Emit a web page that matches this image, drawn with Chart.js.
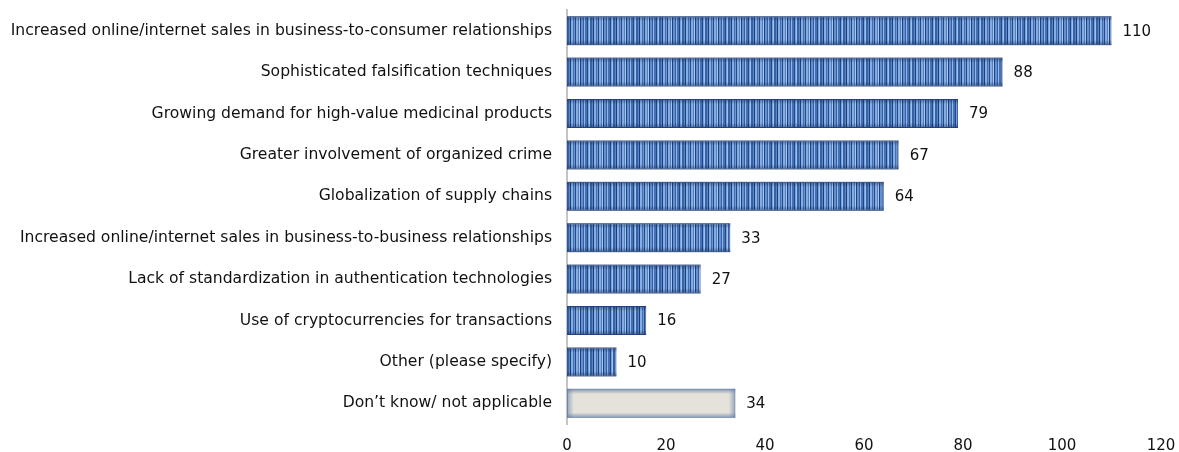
<!DOCTYPE html>
<html lang="en">
<head>
<meta charset="UTF-8">
<title>Drivers of falsification</title>
<script src="https://cdn.jsdelivr.net/npm/chart.js"></script>
<style>
  html, body { margin: 0; padding: 0; background: #fff; }
  #wrap { width: 1179px; height: 452px; }
</style>
</head>
<body>
<div id="wrap"><canvas id="myChart" width="1179" height="452"></canvas></div>
<script>
const categories = [
  'Increased online/internet sales in business-to-consumer relationships',
  'Sophisticated falsification techniques',
  'Growing demand for high-value medicinal products',
  'Greater involvement of organized crime',
  'Globalization of supply chains',
  'Increased online/internet sales in business-to-business relationships',
  'Lack of standardization in authentication technologies',
  'Use of cryptocurrencies for transactions',
  'Other (please specify)',
  'Don\u2019t know/ not applicable'
];
const counts = [110, 88, 79, 67, 64, 33, 27, 16, 10, 34];
const xTicks = [0, 20, 40, 60, 80, 100, 120];

const FONT = '"DejaVu Sans", Verdana, sans-serif';

// vertical stripe texture for the blue bars
function stripePattern(ctx) {
  const shades = ['#24498a', '#86acdf', '#5580c0', '#a8c7ee', '#1c4283', '#6590cd',
                  '#3461a4', '#93b7e6', '#4672b5', '#204787', '#7aa2da', '#a0c1eb',
                  '#3663a6', '#5a86c5', '#1a3f7f', '#88aee1', '#4370b3', '#6c97d3'];
  const widths = [1, 2, 1, 1, 1, 2, 1, 1, 2, 1, 1, 1, 2, 1, 1, 2, 1, 1];
  const w = widths.reduce((a, b) => a + b, 0);
  const c = document.createElement('canvas');
  c.width = w; c.height = 4;
  const g = c.getContext('2d');
  let x = 0;
  shades.forEach((s, i) => {
    g.fillStyle = s;
    g.fillRect(x, 0, widths[i], 4);
    x += widths[i];
  });
  return ctx.createPattern(c, 'repeat');
}

const ctx = document.getElementById('myChart').getContext('2d');
const stripes = stripePattern(ctx);

// darken top and bottom edges of each bar
const edgeShade = {
  id: 'edgeShade',
  afterDatasetsDraw(chart) {
    const c = chart.ctx;
    chart.getDatasetMeta(0).data.forEach((bar, i) => {
      const last = i === counts.length - 1;
      const top = bar.y - bar.height / 2;
      const bottom = bar.y + bar.height / 2;
      const left = bar.base;
      const gr = c.createLinearGradient(0, top, 0, bottom);
      const col = last ? '100,125,165' : '10,32,78';
      const a = last ? 0.75 : 0.45;
      gr.addColorStop(0, `rgba(${col},${a})`);
      gr.addColorStop(0.18, `rgba(${col},0)`);
      gr.addColorStop(0.82, `rgba(${col},0)`);
      gr.addColorStop(1, `rgba(${col},${a})`);
      c.save();
      c.fillStyle = gr;
      c.fillRect(left, top, bar.x - left, bottom - top);
      if (last) {
        const gx = c.createLinearGradient(left, 0, bar.x, 0);
        gx.addColorStop(0, `rgba(${col},0.6)`);
        gx.addColorStop(0.04, `rgba(${col},0)`);
        gx.addColorStop(0.96, `rgba(${col},0)`);
        gx.addColorStop(1, `rgba(${col},0.6)`);
        c.fillStyle = gx;
        c.fillRect(left, top, bar.x - left, bottom - top);
      }
      c.restore();
    });
  }
};

// value labels at the end of each bar
const valueLabels = {
  id: 'valueLabels',
  afterDatasetsDraw(chart) {
    const c = chart.ctx;
    c.save();
    c.font = '15px ' + FONT;
    c.fillStyle = '#111';
    c.textAlign = 'left';
    c.textBaseline = 'middle';
    chart.getDatasetMeta(0).data.forEach((bar, i) => {
      c.fillText(String(counts[i]), bar.x + 11, bar.y + 1);
    });
    c.restore();
  }
};

new Chart(ctx, {
  type: 'bar',
  data: {
    labels: categories,
    datasets: [{
      data: counts,
      backgroundColor: counts.map((v, i) => i === counts.length - 1 ? '#e4e2db' : stripes),
      borderColor: counts.map((v, i) => i === counts.length - 1 ? '#8193b0' : '#34599a'),
      borderWidth: 1,
      borderSkipped: false,
      categoryPercentage: 1,
      barPercentage: 0.7
    }]
  },
  options: {
    indexAxis: 'y',
    responsive: false,
    animation: false,
    layout: { padding: { top: 10, right: 18, bottom: 0, left: 0 } },
    plugins: {
      legend: { display: false },
      tooltip: { enabled: false }
    },
    scales: {
      x: {
        min: 0,
        max: 120,
        afterBuildTicks(scale) { scale.ticks = xTicks.map(v => ({ value: v })); },
        afterFit(scale) {
          scale.height = 28;
          scale.paddingLeft = 0;
          scale.paddingRight = 0;
        },
        grid: { display: false, drawTicks: false },
        border: { display: false },
        ticks: {
          color: '#111',
          padding: 13,
          font: { family: FONT, size: 15 }
        }
      },
      y: {
        afterFit(scale) {
          scale.width = 567;
          scale.paddingTop = 0;
          scale.paddingBottom = 0;
        },
        grid: { display: false, drawTicks: false },
        border: { display: true, color: '#c4c4c4', width: 2 },
        ticks: {
          color: '#111',
          padding: 15,
          autoSkip: false,
          font: { family: FONT, size: 15.6 }
        }
      }
    }
  },
  plugins: [edgeShade, valueLabels]
});
</script>
</body>
</html>
